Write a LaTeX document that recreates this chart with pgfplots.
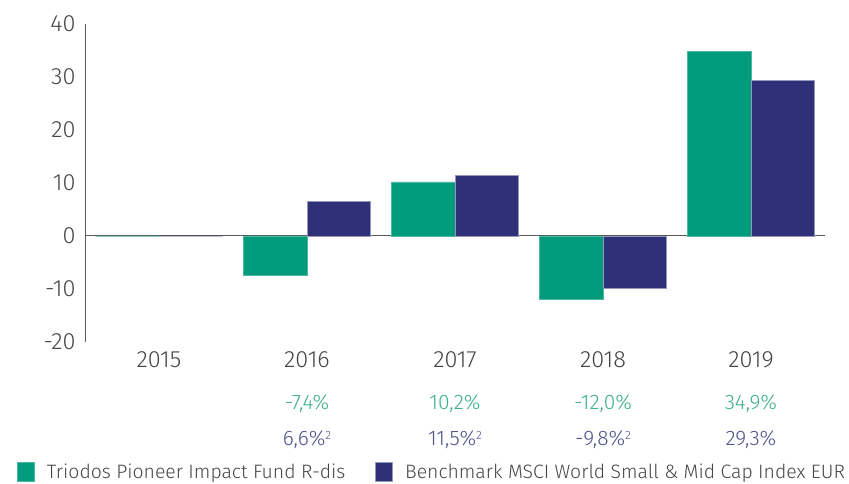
\documentclass[border=0pt]{standalone}
\usepackage{pgfplots}
\pgfplotsset{compat=1.18}
\usepackage{fontspec}
\setmainfont{Fira Sans Light}
\definecolor{tgreen}{RGB}{0,155,124}
\definecolor{tpurple}{RGB}{46,48,120}
\definecolor{tgreentext}{RGB}{60,175,140}
\definecolor{tpurpletext}{RGB}{80,80,140}
\definecolor{axgray}{RGB}{90,90,90}
\definecolor{txtgray}{RGB}{70,70,70}
\newcommand{\suptwo}{\raisebox{0.55ex}{\fontsize{12}{12}\selectfont 2}}
\begin{document}
\begin{tikzpicture}
\path[use as bounding box] (0,0) rectangle (849pt,484pt);
\begin{axis}[
  at={(85pt,142pt)}, anchor=south west,
  scale only axis, width=740pt, height=318pt,
  ymin=-20, ymax=40, xmin=-0.5, xmax=4.5,
  ytick={-20,-10,0,10,20,30,40},
  xtick={0,1,2,3,4}, xticklabels={2015,2016,2017,2018,2019},
  axis y line*=left, axis x line*=bottom,
  x axis line style={draw=none},
  y axis line style={draw=axgray, line width=1pt},
  major tick length=0pt,
  /pgf/number format/assume math mode=true,
  tick label style={font=\fontsize{23.5}{26}\selectfont, text=txtgray},
  yticklabel style={xshift=-6pt},
  xticklabel style={yshift=-6pt},
  ybar=0pt, bar width=0.43,
  clip=false,
  legend style={at={(-0.092,-0.409)}, anchor=west, draw=none, fill=none,
    legend columns=2, font=\fontsize{19.4}{22}\selectfont, text=txtgray,
    inner sep=0pt,
    /tikz/every even column/.append style={column sep=28pt}},
  legend image code/.code={\fill[#1] (0pt,-9pt) rectangle (17pt,10pt); \path (27pt,0pt);},
]
\draw[axgray, line width=1pt] (axis cs:-0.5,0) -- (axis cs:4.5,0);
\addplot[fill=tgreen, draw=tgreen!70!white, line width=0.8pt] coordinates {(0,0) (1,-7.4) (2,10.2) (3,-12.0) (4,34.9)};
\addplot[fill=tpurple, draw=tpurple!50!white, line width=0.8pt] coordinates {(0,0) (1,6.6) (2,11.5) (3,-9.8) (4,29.3)};
\legend{Triodos Pioneer Impact Fund R-dis, Benchmark MSCI World Small \& Mid Cap Index EUR}
\begin{scope}[every node/.style={font=\fontsize{21}{24}\selectfont}]
\node[text=tgreentext] at (axis cs:1,-31.7) {-7,4\%};
\node[text=tgreentext] at (axis cs:2,-31.7) {10,2\%};
\node[text=tgreentext] at (axis cs:3,-31.7) {-12,0\%};
\node[text=tgreentext] at (axis cs:4,-31.7) {34,9\%};
\node[text=tpurpletext] at (axis cs:1,-38.5) {6,6\%\suptwo};
\node[text=tpurpletext] at (axis cs:2,-38.5) {11,5\%\suptwo};
\node[text=tpurpletext] at (axis cs:3,-38.5) {-9,8\%\suptwo};
\node[text=tpurpletext] at (axis cs:4,-38.5) {29,3\%};
\end{scope}
\end{axis}
\end{tikzpicture}
\end{document}
